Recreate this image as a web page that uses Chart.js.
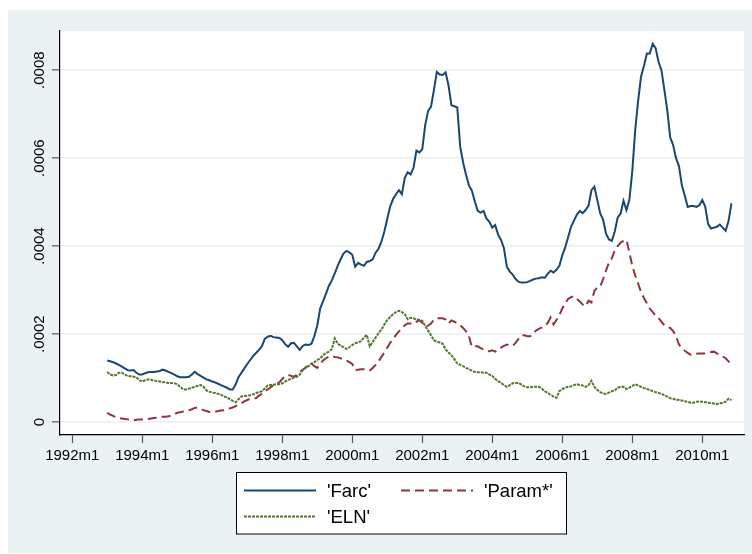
<!DOCTYPE html>
<html>
<head>
<meta charset="utf-8">
<script src="https://cdn.jsdelivr.net/npm/chart.js@4.4.1/dist/chart.umd.min.js"></script>
<style>
html, body { margin: 0; padding: 0; background: #fff; }
</style>
</head>
<body>
<canvas id="chart" width="752" height="554"></canvas>
<script>
// values are in units of 1e-4 (axis labels show the real numbers)
// one value per month, 1993m1 .. 2010m11
const farc = [
    1.40, 1.38, 1.36, 1.33, 1.30, 1.26, 1.22, 1.18, 1.17, 1.18, 1.12, 1.08, // 1993
    1.08, 1.11, 1.13, 1.14, 1.14, 1.15, 1.16, 1.19, 1.17, 1.14, 1.11, 1.08, // 1994
    1.04, 1.02, 1.02, 1.02, 1.03, 1.08, 1.14, 1.09, 1.05, 1.01, 0.97, 0.95, // 1995
    0.92, 0.90, 0.87, 0.84, 0.81, 0.78, 0.74, 0.74, 0.85, 1.02, 1.12, 1.22, // 1996
    1.32, 1.41, 1.50, 1.57, 1.64, 1.72, 1.89, 1.94, 1.96, 1.93, 1.92, 1.91, // 1997
    1.86, 1.77, 1.71, 1.79, 1.80, 1.72, 1.64, 1.73, 1.76, 1.75, 1.78, 1.95, // 1998
    2.20, 2.58, 2.75, 2.92, 3.10, 3.22, 3.38, 3.55, 3.70, 3.83, 3.89, 3.86, // 1999
    3.80, 3.53, 3.62, 3.58, 3.55, 3.64, 3.66, 3.70, 3.85, 3.94, 4.10, 4.33, // 2000
    4.62, 4.90, 5.07, 5.18, 5.27, 5.18, 5.55, 5.68, 5.63, 5.78, 6.17, 6.13, // 2001
    6.20, 6.75, 7.07, 7.17, 7.55, 7.96, 7.90, 7.89, 7.95, 7.65, 7.20, 7.18, // 2002
    7.15, 6.26, 5.90, 5.62, 5.38, 5.26, 5.02, 4.80, 4.76, 4.80, 4.63, 4.55, // 2003
    4.42, 4.48, 4.26, 4.14, 3.95, 3.53, 3.42, 3.35, 3.25, 3.19, 3.17, 3.17, // 2004
    3.18, 3.21, 3.24, 3.26, 3.27, 3.29, 3.28, 3.37, 3.44, 3.40, 3.46, 3.55, // 2005
    3.79, 3.97, 4.20, 4.44, 4.58, 4.71, 4.80, 4.75, 4.82, 4.92, 5.27, 5.35, // 2006
    5.05, 4.74, 4.60, 4.28, 4.15, 4.12, 4.33, 4.65, 4.74, 5.03, 4.82, 5.05, // 2007
    5.70, 6.64, 7.30, 7.85, 8.10, 8.38, 8.38, 8.60, 8.50, 8.19, 8.00, 7.55, // 2008
    7.09, 6.47, 6.30, 6.00, 5.82, 5.38, 5.15, 4.89, 4.91, 4.91, 4.89, 4.93, // 2009
    5.05, 4.90, 4.50, 4.40, 4.42, 4.44, 4.49, 4.42, 4.35, 4.57, 4.97        // 2010
];
const param = [
    0.21, 0.17, 0.14, 0.11, 0.09, 0.08, 0.07, 0.06, 0.05, 0.04, 0.05, 0.06,
    0.06, 0.07, 0.07, 0.08, 0.09, 0.10, 0.11, 0.12, 0.12, 0.13, 0.15, 0.18,
    0.21, 0.22, 0.24, 0.26, 0.27, 0.29, 0.32, 0.33, 0.30, 0.27, 0.25, 0.23,
    0.22, 0.23, 0.25, 0.26, 0.27, 0.29, 0.31, 0.33, 0.36, 0.39, 0.43, 0.47,
    0.50, 0.53, 0.54, 0.54, 0.60, 0.64, 0.70, 0.74, 0.79, 0.84, 0.88, 0.90,
    0.98, 1.04, 1.07, 1.05, 1.03, 1.07, 1.14, 1.19, 1.24, 1.29, 1.33, 1.27,
    1.23, 1.33, 1.40, 1.45, 1.49, 1.50, 1.48, 1.47, 1.45, 1.42, 1.40, 1.36,
    1.32, 1.18, 1.19, 1.20, 1.20, 1.18, 1.17, 1.23, 1.30, 1.38, 1.48, 1.58,
    1.69, 1.80, 1.89, 1.98, 2.06, 2.13, 2.20, 2.24, 2.24, 2.23, 2.28, 2.31,
    2.26, 2.17, 2.19, 2.24, 2.33, 2.36, 2.36, 2.36, 2.33, 2.24, 2.31, 2.28,
    2.25, 2.20, 2.14, 2.06, 1.95, 1.71, 1.72, 1.72, 1.68, 1.65, 1.62, 1.61,
    1.63, 1.60, 1.65, 1.69, 1.73, 1.76, 1.74, 1.73, 1.80, 1.89, 1.97, 1.97,
    1.95, 1.95, 2.02, 2.08, 2.12, 2.15, 2.19, 2.25, 2.38, 2.22, 2.32, 2.43,
    2.58, 2.70, 2.80, 2.84, 2.86, 2.80, 2.74, 2.67, 2.63, 2.76, 2.72, 2.98,
    3.06, 3.08, 3.25, 3.45, 3.62, 3.72, 3.90, 4.00, 4.08, 4.12, 4.14, 3.85,
    3.55, 3.33, 3.15, 2.95, 2.82, 2.70, 2.58, 2.50, 2.42, 2.36, 2.28, 2.20,
    2.16, 2.14, 2.07, 1.95, 1.76, 1.68, 1.62, 1.57, 1.53, 1.53, 1.55, 1.56,
    1.56, 1.56, 1.57, 1.59, 1.60, 1.56, 1.52, 1.49, 1.45, 1.38, 1.30
];
const eln = [
    1.14, 1.08, 1.06, 1.07, 1.12, 1.12, 1.08, 1.05, 1.04, 1.03, 1.02, 0.95,
    0.92, 0.95, 0.97, 0.96, 0.94, 0.93, 0.92, 0.91, 0.90, 0.89, 0.89, 0.88,
    0.86, 0.80, 0.74, 0.74, 0.76, 0.78, 0.80, 0.82, 0.84, 0.80, 0.72, 0.69,
    0.67, 0.66, 0.64, 0.62, 0.58, 0.56, 0.52, 0.48, 0.45, 0.52, 0.58, 0.59,
    0.60, 0.61, 0.63, 0.66, 0.68, 0.70, 0.76, 0.83, 0.84, 0.85, 0.86, 0.86,
    0.88, 0.92, 0.96, 0.98, 1.01, 1.03, 1.08, 1.18, 1.23, 1.27, 1.33, 1.36,
    1.41, 1.45, 1.52, 1.57, 1.60, 1.66, 1.90, 1.78, 1.74, 1.70, 1.66, 1.70,
    1.75, 1.79, 1.81, 1.84, 1.92, 1.98, 1.72, 1.82, 1.92, 2.02, 2.10, 2.22,
    2.32, 2.39, 2.45, 2.50, 2.53, 2.50, 2.45, 2.34, 2.37, 2.36, 2.33, 2.32,
    2.30, 2.18, 2.08, 1.97, 1.86, 1.82, 1.81, 1.78, 1.65, 1.58, 1.52, 1.43,
    1.33, 1.30, 1.27, 1.23, 1.20, 1.17, 1.14, 1.13, 1.13, 1.12, 1.12, 1.08,
    1.05, 0.98, 0.93, 0.89, 0.84, 0.80, 0.84, 0.88, 0.89, 0.89, 0.85, 0.81,
    0.79, 0.79, 0.80, 0.80, 0.80, 0.76, 0.70, 0.66, 0.62, 0.58, 0.55, 0.70,
    0.75, 0.78, 0.80, 0.81, 0.84, 0.86, 0.84, 0.83, 0.80, 0.84, 0.94, 0.80,
    0.73, 0.68, 0.65, 0.64, 0.67, 0.70, 0.72, 0.78, 0.80, 0.80, 0.75, 0.78,
    0.82, 0.86, 0.83, 0.80, 0.77, 0.75, 0.73, 0.70, 0.68, 0.66, 0.64, 0.61,
    0.58, 0.54, 0.53, 0.51, 0.50, 0.49, 0.47, 0.46, 0.44, 0.44, 0.46, 0.47,
    0.46, 0.45, 0.44, 0.43, 0.42, 0.41, 0.42, 0.44, 0.46, 0.53, 0.50
];

const seriesLabels = ["'Farc'", "'Param*'", "'ELN'"];

// x axis counts months from 1992m1
const firstMonth = 12; // 1993m1
const months = [];
for (let i = 0; i < farc.length; i++) {
    months.push(firstMonth + i);
}

const xTickValues = [0, 24, 48, 72, 96, 120, 144, 168, 192, 216];
const xTickLabels = ['1992m1', '1994m1', '1996m1', '1998m1', '2000m1',
    '2002m1', '2004m1', '2006m1', '2008m1', '2010m1'];
const yTickValues = [0, 2, 4, 6, 8];
const yTickLabels = ['0', '.0002', '.0004', '.0006', '.0008'];

const FONT = '"Liberation Sans", Arial, Helvetica, sans-serif';
const BG = '#eaf2f3';

function toPoints(values) {
    return values.map((v, i) => ({ x: months[i], y: v }));
}

// stata-like frame, rotated y labels and boxed legend
const stataFrame = {
    id: 'stataFrame',
    beforeDraw(chart) {
        const c = chart.ctx;
        const a = chart.chartArea;
        c.save();
        c.fillStyle = '#ffffff';
        c.fillRect(0, 0, chart.width, chart.height);
        c.fillStyle = BG;
        c.fillRect(8, 10, chart.width - 8, chart.height - 11);
        c.fillStyle = '#ffffff';
        c.fillRect(a.left, a.top, a.right - a.left, a.bottom - a.top);
        c.restore();
    },
    afterDraw(chart) {
        const c = chart.ctx;
        const ys = chart.scales.y;

        c.save();
        c.fillStyle = '#000';
        c.font = '15px ' + FONT;
        c.textAlign = 'center';
        c.textBaseline = 'middle';
        yTickValues.forEach((v, i) => {
            const py = ys.getPixelForValue(v);
            c.save();
            c.translate(40, py);
            c.rotate(-Math.PI / 2);
            c.fillText(yTickLabels[i], 0, 0);
            c.restore();
        });

        // legend box
        c.fillStyle = '#ffffff';
        c.fillRect(236.5, 472.5, 330, 61.5);
        c.strokeStyle = '#000';
        c.lineWidth = 1;
        c.strokeRect(236.5, 472.5, 330, 61.5);

        const colX = [244, 401];
        const rowY = [490.5, 516.5];
        chart.data.datasets.forEach((ds, i) => {
            const x0 = colX[i % 2];
            const y0 = rowY[Math.floor(i / 2)];
            c.beginPath();
            c.strokeStyle = ds.borderColor;
            c.lineWidth = ds.borderWidth;
            c.setLineDash(ds.borderDash || []);
            c.moveTo(x0, y0);
            c.lineTo(x0 + 72, y0);
            c.stroke();
            c.setLineDash([]);
            c.fillStyle = '#000';
            c.font = '18.5px ' + FONT;
            c.textAlign = 'left';
            c.textBaseline = 'middle';
            c.fillText(ds.label, x0 + 83, y0 + 1);
        });
        c.restore();
    }
};

const chart = new Chart(document.getElementById('chart').getContext('2d'), {
    type: 'line',
    data: {
        datasets: [
            {
                label: seriesLabels[0],
                data: toPoints(farc),
                borderColor: '#1a476f',
                borderWidth: 2,
                order: 3
            },
            {
                label: seriesLabels[1],
                data: toPoints(param),
                borderColor: '#90353b',
                borderWidth: 2,
                borderDash: [9, 5],
                order: 2
            },
            {
                label: seriesLabels[2],
                data: toPoints(eln),
                borderColor: '#55752f',
                borderWidth: 2,
                borderDash: [3, 1],
                order: 1
            }
        ]
    },
    options: {
        responsive: false,
        animation: false,
        devicePixelRatio: 1,
        layout: {
            padding: { left: 8, top: 31, right: 8, bottom: 0 }
        },
        elements: {
            point: { radius: 0 },
            line: { tension: 0 }
        },
        plugins: {
            legend: { display: false },
            tooltip: { enabled: false }
        },
        scales: {
            x: {
                type: 'linear',
                min: -4.2,
                max: 230.3,
                afterFit: (scale) => { scale.height = 119; },
                afterBuildTicks: (scale) => {
                    scale.ticks = xTickValues.map(v => ({ value: v }));
                },
                grid: {
                    drawOnChartArea: false,
                    drawTicks: true,
                    tickLength: 8,
                    tickColor: '#555',
                    tickWidth: 1.2
                },
                border: { display: true, color: '#000', width: 1.2 },
                ticks: {
                    autoSkip: false,
                    maxRotation: 0,
                    padding: 4,
                    color: '#000',
                    font: { family: FONT, size: 15 },
                    callback: (value, index) => xTickLabels[index]
                }
            },
            y: {
                type: 'linear',
                min: -0.295,
                max: 8.89,
                afterFit: (scale) => { scale.width = 52; },
                afterBuildTicks: (scale) => {
                    scale.ticks = yTickValues.map(v => ({ value: v }));
                },
                grid: {
                    color: BG,
                    lineWidth: 1.7,
                    drawTicks: true,
                    tickLength: 8,
                    tickColor: '#555',
                    tickWidth: 1.2
                },
                border: { display: true, color: '#000', width: 1.2 },
                ticks: { display: false }
            }
        }
    },
    plugins: [stataFrame]
});
</script>
</body>
</html>
